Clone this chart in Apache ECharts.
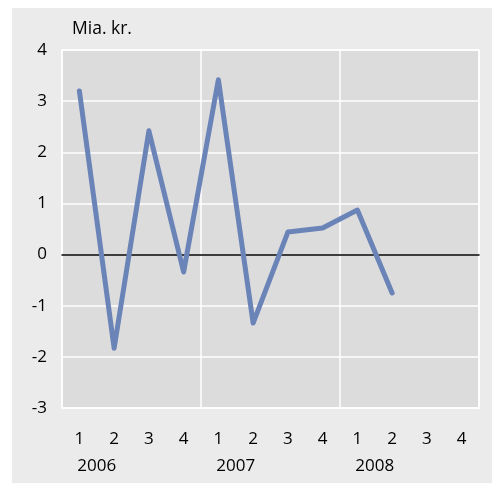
<!DOCTYPE html>
<html><head><meta charset="utf-8">
<script src="https://cdn.jsdelivr.net/npm/echarts@6/dist/echarts.min.js"></script>
<style>html,body{margin:0;padding:0;background:#fff}#c{width:496px;height:483px}</style>
</head><body><div id="c"></div>
<script>
const quarters = ['1','2','3','4','1','2','3','4','1','2','3','4'];
const years = ['2006','2007','2008'];
const values = [3.2, -1.83, 2.42, -0.34, 3.42, -1.34, 0.44, 0.52, 0.87, -0.75, null, null];
const yTicks = {min: -3, max: 4, interval: 1};
const unitLabel = 'Mia. kr.';

const FONT = 'Open Sans';
const chart = echarts.init(document.getElementById('c'), null, {renderer: 'canvas'});
chart.setOption({
  animation: false,
  backgroundColor: '#ffffff',
  graphic: [{type: 'rect', left: 12, top: 8, shape: {width: 480, height: 475}, style: {fill: '#ebebeb'}, z: -10}],
  title: {text: unitLabel, left: 67, top: 15, textStyle: {fontFamily: FONT, fontSize: 17.5, fontWeight: 'normal', color: '#000'}},
  grid: {left: 62, top: 50, width: 417, height: 358, show: true, backgroundColor: '#dcdcdc', borderColor: '#ffffff', borderWidth: 1.5},
  xAxis: [{
    type: 'category', data: quarters, boundaryGap: true,
    axisLine: {show: true, onZero: true, lineStyle: {color: '#000', width: 1.5}},
    axisTick: {show: false},
    splitLine: {show: true, interval: 3, lineStyle: {color: '#fff', width: 1.5}},
    axisLabel: {margin: 23, color: '#000', fontFamily: FONT, fontSize: 17}
  }, {
    type: 'value', position: 'bottom', offset: 27, min: 0, max: 12, interval: 1,
    axisLine: {show: false}, axisTick: {show: false}, splitLine: {show: false},
    axisLabel: {margin: 23, color: '#000', fontFamily: FONT, fontSize: 17, showMinLabel: true, showMaxLabel: true,
      formatter: v => ((v - 1) % 4 === 0 && years[(v - 1) / 4]) ? years[(v - 1) / 4] : ''}
  }],
  yAxis: {
    type: 'value', min: yTicks.min, max: yTicks.max, interval: yTicks.interval,
    axisLine: {show: false}, axisTick: {show: false},
    splitLine: {show: true, lineStyle: {color: '#fff', width: 1.5}},
    axisLabel: {margin: 15, color: '#000', fontFamily: FONT, fontSize: 17}
  },
  series: [{
    type: 'line', data: values, xAxisIndex: 0, symbol: 'none',
    lineStyle: {color: '#6a84b8', width: 5, cap: 'round', join: 'round'}
  }]
});
</script></body></html>
